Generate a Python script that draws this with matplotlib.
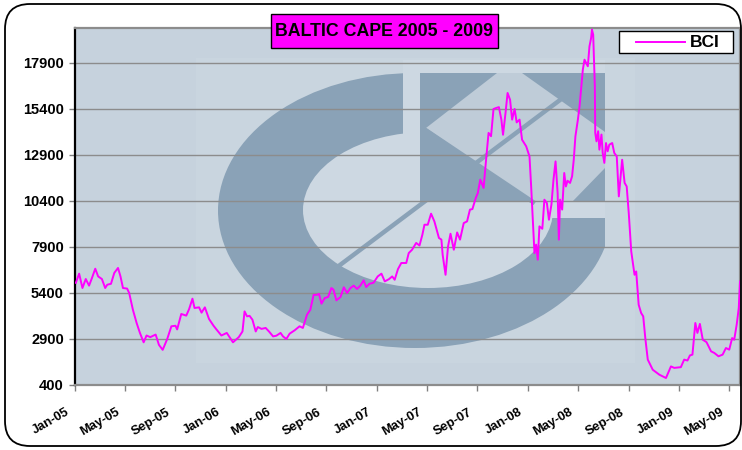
import matplotlib
matplotlib.use("Agg")
import matplotlib.pyplot as plt
import matplotlib.dates as mdates
import matplotlib.transforms as mtransforms
from matplotlib.patches import Ellipse, Rectangle, Polygon, FancyBboxPatch
from matplotlib.lines import Line2D
import pandas as pd

plt.rcParams['font.family'] = ['Liberation Sans', 'DejaVu Sans']

# BCI readings (date, index value)
dates = [
    "2005-01-03", "2005-01-11", "2005-01-19", "2005-01-27", "2005-02-04", "2005-02-11",
    "2005-02-19", "2005-02-26", "2005-03-07", "2005-03-15", "2005-03-20", "2005-03-29",
    "2005-04-06", "2005-04-15", "2005-04-21", "2005-04-27", "2005-05-07", "2005-05-12",
    "2005-05-21", "2005-05-30", "2005-06-07", "2005-06-16", "2005-06-23", "2005-07-02",
    "2005-07-15", "2005-07-23", "2005-08-01", "2005-08-12", "2005-08-22", "2005-09-01",
    "2005-09-05", "2005-09-15", "2005-09-27", "2005-10-04", "2005-10-12", "2005-10-17",
    "2005-10-28", "2005-11-03", "2005-11-11", "2005-11-21", "2005-12-02", "2005-12-09",
    "2005-12-21", "2006-01-03", "2006-01-18", "2006-02-01", "2006-02-10", "2006-02-15",
    "2006-02-21", "2006-02-27", "2006-03-06", "2006-03-14", "2006-03-19", "2006-03-28",
    "2006-04-07", "2006-04-15", "2006-04-25", "2006-05-03", "2006-05-13", "2006-05-19",
    "2006-05-27", "2006-06-04", "2006-06-16", "2006-06-28", "2006-07-06", "2006-07-16",
    "2006-07-24", "2006-08-01", "2006-08-09", "2006-08-14", "2006-08-20", "2006-08-28",
    "2006-09-05", "2006-09-13", "2006-09-18", "2006-09-25", "2006-10-05", "2006-10-13",
    "2006-10-21", "2006-10-29", "2006-11-06", "2006-11-14", "2006-11-22", "2006-11-30",
    "2006-12-06", "2006-12-14", "2006-12-24", "2007-01-03", "2007-01-12", "2007-01-20",
    "2007-01-30", "2007-02-07", "2007-02-13", "2007-02-21", "2007-03-01", "2007-03-13",
    "2007-03-19", "2007-03-27", "2007-04-06", "2007-04-14", "2007-04-21", "2007-04-26",
    "2007-05-04", "2007-05-12", "2007-05-20", "2007-05-31", "2007-06-06", "2007-06-09",
    "2007-06-16", "2007-06-22", "2007-06-28", "2007-07-06", "2007-07-14", "2007-07-21",
    "2007-07-30", "2007-08-07", "2007-08-14", "2007-08-20", "2007-08-28", "2007-09-02",
    "2007-09-08", "2007-09-16", "2007-09-22", "2007-09-28", "2007-10-04", "2007-10-10",
    "2007-10-16", "2007-10-23", "2007-10-29", "2007-11-02", "2007-11-08", "2007-11-13",
    "2007-11-19", "2007-11-24", "2007-11-30", "2007-12-05", "2007-12-12", "2007-12-18",
    "2007-12-28", "2008-01-05", "2008-01-09", "2008-01-13", "2008-01-17", "2008-01-21",
    "2008-01-25", "2008-01-29", "2008-02-05", "2008-02-10", "2008-02-16", "2008-02-21",
    "2008-02-27", "2008-03-03", "2008-03-08", "2008-03-13", "2008-03-16", "2008-03-19",
    "2008-03-24", "2008-03-29", "2008-04-02", "2008-04-06", "2008-04-12", "2008-04-17",
    "2008-04-21", "2008-04-25", "2008-05-01", "2008-05-05", "2008-05-13", "2008-05-17",
    "2008-05-25", "2008-05-29", "2008-06-02", "2008-06-04", "2008-06-07", "2008-06-11",
    "2008-06-12", "2008-06-15", "2008-06-19", "2008-06-22", "2008-06-27", "2008-06-30",
    "2008-07-04", "2008-07-08", "2008-07-12", "2008-07-16", "2008-07-23", "2008-07-28",
    "2008-08-03", "2008-08-08", "2008-08-16", "2008-08-22", "2008-08-27", "2008-09-01",
    "2008-09-07", "2008-09-15", "2008-09-19", "2008-09-25", "2008-10-01", "2008-10-06",
    "2008-10-11", "2008-10-17", "2008-10-29", "2008-11-14", "2008-11-30", "2008-12-12",
    "2008-12-20", "2009-01-05", "2009-01-13", "2009-01-21", "2009-01-27", "2009-02-02",
    "2009-02-09", "2009-02-14", "2009-02-20", "2009-02-27", "2009-03-08", "2009-03-19",
    "2009-03-27", "2009-04-06", "2009-04-16", "2009-04-24", "2009-05-02", "2009-05-09",
    "2009-05-14", "2009-05-20", "2009-05-25", "2009-05-28",
]

bci = [
    5950, 6450, 5670, 6160, 5800, 6215,
    6720, 6300, 6160, 5670, 5850, 5900,
    6490, 6760, 6300, 5670, 5640, 5400,
    4490, 3770, 3230, 2720, 3090, 3000,
    3140, 2580, 2310, 2900, 3590, 3620,
    3420, 4260, 4170, 4530, 5090, 4585,
    4620, 4330, 4620, 3990, 3620, 3420,
    3090, 3230, 2720, 3000, 3310, 4400,
    4130, 4160, 3950, 3310, 3550, 3450,
    3500, 3310, 3040, 3080, 3230, 3040,
    2900, 3190, 3370, 3590, 3500, 4220,
    4490, 5300, 5300, 5350, 4820, 5130,
    5180, 5670, 5580, 5000, 5180, 5710,
    5400, 5670, 5800, 5620, 5800, 6090,
    5720, 5900, 5960, 6300, 6450, 6030,
    6150, 6300, 6120, 6700, 7030, 7030,
    7570, 7750, 8120, 7980, 8570, 9110,
    9110, 9710, 9290, 8390, 8300, 7480,
    6390, 7930, 8620, 7750, 8690, 8300,
    9200, 9290, 9930, 9960, 10560, 10830,
    11560, 11110, 12640, 14100, 13920, 15400,
    15450, 15500, 14820, 14000, 15180, 16270,
    15900, 14820, 15400, 14670, 14820, 13730,
    13370, 12820, 11190, 9380, 7570, 8030,
    7210, 9020, 8890, 10470, 10290, 9380,
    10200, 11560, 12550, 10840, 8300, 10470,
    9930, 11920, 11190, 11500, 11380, 11740,
    12640, 13910, 14820, 15540, 17540, 18080,
    17720, 18800, 19260, 19710, 19440, 16630,
    14100, 13640, 14190, 13190, 14010, 13010,
    12470, 13550, 13100, 13460, 13550, 13010,
    12820, 10650, 12640, 11380, 11190, 9750,
    7660, 6390, 6570, 4760, 4310, 4130,
    2950, 1780, 1230, 960, 780, 1410,
    1330, 1370, 1780, 1730, 2010, 2050,
    3770, 3230, 3720, 2860, 2730, 2230,
    2140, 1960, 2050, 2410, 2320, 2950,
    2860, 3680, 4580, 6030,
]

y_ticks = [400, 2900, 5400, 7900, 10400, 12900, 15400, 17900]
title = "BALTIC CAPE 2005 - 2009"
series_name = "BCI"

W, H = 742, 450
fig = plt.figure(figsize=(W / 100, H / 100), dpi=100)
fig.patch.set_facecolor("white")

# pixel coordinates (origin top-left) for decorations
pix = mtransforms.Affine2D().scale(1 / W, -1 / H).translate(0, 1) + fig.transFigure

ax = fig.add_axes([75 / W, 1 - 385 / H, (740 - 75) / W, (385 - 28) / H])
bg = "#C6D2DD"
halo = "#C9D5DF"
ring = "#8AA2B7"
hole = "#CDD8E2"
ax.set_facecolor(bg)

# watermark logo
logo = [
    Rectangle((196, 58), 420, 305, fc=halo, ec="none", zorder=0.1),
    Ellipse((415, 210.5), 394, 275, fc=ring, ec="none", zorder=0.2),
    Ellipse((428, 210), 250, 156, fc=hole, ec="none", zorder=0.3),
    Rectangle((403, 60), 202, 158, fc=hole, ec="none", zorder=0.3),
    Rectangle((605, 58), 30, 305, fc=halo, ec="none", zorder=0.3),
    Rectangle((420, 73), 185, 129, fc=ring, ec="none", zorder=0.4),
    Polygon([(426, 128), (497, 73), (522, 73), (605, 132), (605, 168),
             (572, 202), (532, 202)], closed=True, fc="#BFCCD8", ec="none", zorder=0.5),
]
for p in logo:
    p.set_transform(pix)
    ax.add_artist(p)
for xs, ys in [((340, 560), (265, 100)), ((427, 533), (131, 202))]:
    ln = Line2D(xs, ys, color=ring, lw=3.2, transform=pix, zorder=0.6)
    ax.add_artist(ln)

ax.plot(pd.to_datetime(dates), bci, color="#FF00FF", lw=1.4, zorder=3)

ax.set_ylim(400, 19800)
ax.set_yticks(y_ticks)
ax.set_xlim(pd.Timestamp("2005-01-01"), pd.Timestamp("2009-05-28"))
ax.xaxis.set_major_locator(mdates.MonthLocator(bymonth=(1, 5, 9)))
ax.xaxis.set_major_formatter(mdates.DateFormatter("%b-%y"))

ax.yaxis.grid(True, color="#8C8C8C", lw=1.0)
ax.xaxis.grid(False)

for side in ["top", "right", "bottom"]:
    ax.spines[side].set_color("#8C8C8C")
    ax.spines[side].set_linewidth(1.6)
ax.spines["left"].set_color("black")
ax.spines["left"].set_linewidth(1.6)

ax.tick_params(axis="both", direction="out", length=4, width=1, color="#808080")
ax.tick_params(axis="y", pad=4, labelsize=10.5)
ax.tick_params(axis="x", pad=15, labelsize=9.3)
for lab in ax.get_yticklabels():
    lab.set_fontweight("bold")
shift = mtransforms.ScaledTranslation(-6 / 100, 0, fig.dpi_scale_trans)
for lab in ax.get_xticklabels():
    lab.set_fontweight("bold")
    lab.set_rotation(30)
    lab.set_ha("right")
    lab.set_va("center")
    lab.set_rotation_mode("anchor")
    lab.set_transform(lab.get_transform() + shift)

# title box
tbox = Rectangle((271, 14), 227, 34, fc="#FF00FF", ec="black", lw=1, transform=pix)
fig.add_artist(tbox)
fig.text(384.5 / W, 1 - 31.5 / H, title, ha="center", va="center",
         fontsize=12.8, fontweight="bold", color="black")

# legend box
lbox = Rectangle((619, 31), 114, 22, fc="white", ec="black", lw=1, transform=pix, zorder=5)
fig.add_artist(lbox)
fig.add_artist(Line2D([636, 685], [42, 42], color="#FF00FF", lw=1.4, transform=pix, zorder=6))
fig.text(690 / W, 1 - 42.5 / H, series_name, ha="left", va="center",
         fontsize=12.5, fontweight="bold", zorder=6)

# rounded outer frame
frame = FancyBboxPatch((5, 4), 736, 442, boxstyle="round,pad=0,rounding_size=25",
                       fc="none", ec="black", lw=1.3, transform=pix)
fig.add_artist(frame)

fig.savefig("out.png", dpi=100)
